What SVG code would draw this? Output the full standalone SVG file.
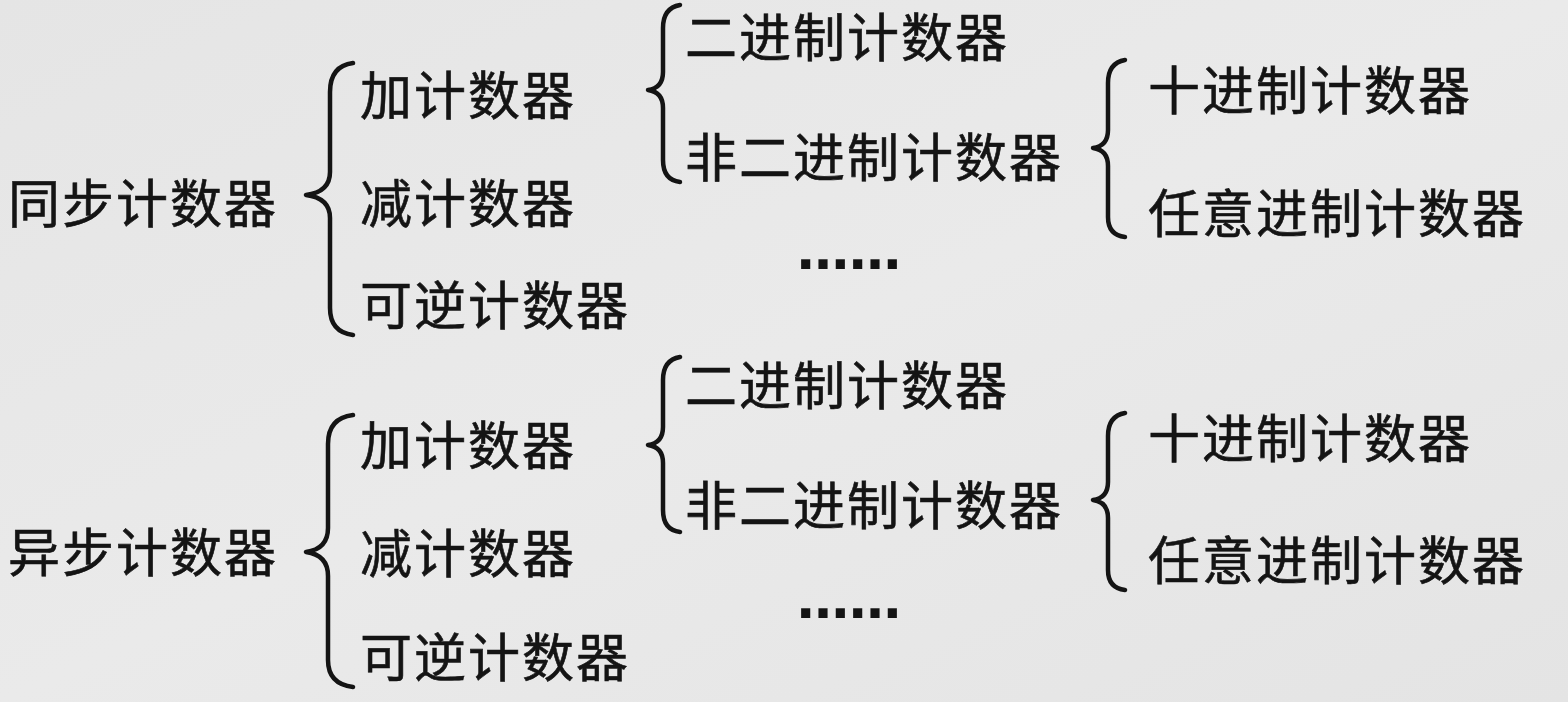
<svg xmlns="http://www.w3.org/2000/svg" width="1568" height="702" viewBox="0 0 1568 702">
<defs>
<linearGradient id="bg" x1="0" y1="0" x2="1" y2="1">
<stop offset="0" stop-color="#e5e5e5"/>
<stop offset="0.5" stop-color="#eaeaea"/>
<stop offset="1" stop-color="#e4e4e4"/>
</linearGradient>
<style>
text{font-family:"Noto Sans CJK SC","Noto Sans CJK JP",sans-serif;font-size:52px;fill:#141414;stroke:#141414;stroke-width:0.6;letter-spacing:2px}
text.dots{font-family:"DejaVu Sans",sans-serif;font-weight:bold;letter-spacing:0;stroke:none}
.brace{fill:none;stroke:#141414;stroke-width:4.5;stroke-linecap:round;stroke-linejoin:round}
</style>
</defs>
<rect width="1568" height="702" fill="url(#bg)"/>
<g id="connectors">
<path class="brace" d="M353 63 Q330 66 330 92 L330 172 Q330 192 306 195 Q330 198 330 218 L330 308 Q330 332 353 335"/>
<path class="brace" d="M680 5 Q663 8 663 28 L663 72 Q663 88 648 90 Q663 92 663 108 L663 160 Q663 180 680 182"/>
<path class="brace" d="M1125 60 Q1108 63 1108 83 L1108 130 Q1108 146 1093 148 Q1108 150 1108 166 L1108 217 Q1108 235 1125 237"/>
<path class="brace" d="M353 415 Q328 418 328 444 L328 528 Q328 549 306 552 Q328 555 328 576 L328 660 Q328 684 353 687"/>
<path class="brace" d="M680 357 Q663 360 663 380 L663 427 Q663 443 648 445 Q663 447 663 463 L663 510 Q663 530 680 532"/>
<path class="brace" d="M1125 413 Q1108 416 1108 436 L1108 482 Q1108 498 1093 500 Q1108 502 1108 518 L1108 570 Q1108 588 1125 590"/>
</g>
<g id="sync"><text x="8" y="223">同步计数器</text></g>
<g id="sync-up"><text x="360" y="115">加计数器</text></g>
<g id="sync-down"><text x="360" y="223">减计数器</text></g>
<g id="sync-rev"><text x="360" y="325">可逆计数器</text></g>
<g id="sync-bin"><text x="685" y="57">二进制计数器</text></g>
<g id="sync-nonbin"><text x="685" y="177">非二进制计数器</text></g>
<g id="sync-more"><text class="dots" x="797" y="269">……</text></g>
<g id="sync-dec"><text x="1148" y="110">十进制计数器</text></g>
<g id="sync-any"><text x="1148" y="233">任意进制计数器</text></g>
<g id="async"><text x="8" y="572">异步计数器</text></g>
<g id="async-up"><text x="360" y="465">加计数器</text></g>
<g id="async-down"><text x="360" y="573">减计数器</text></g>
<g id="async-rev"><text x="360" y="677">可逆计数器</text></g>
<g id="async-bin"><text x="685" y="405">二进制计数器</text></g>
<g id="async-nonbin"><text x="685" y="525">非二进制计数器</text></g>
<g id="async-more"><text class="dots" x="797" y="618">……</text></g>
<g id="async-dec"><text x="1148" y="458">十进制计数器</text></g>
<g id="async-any"><text x="1148" y="580">任意进制计数器</text></g>
</svg>
